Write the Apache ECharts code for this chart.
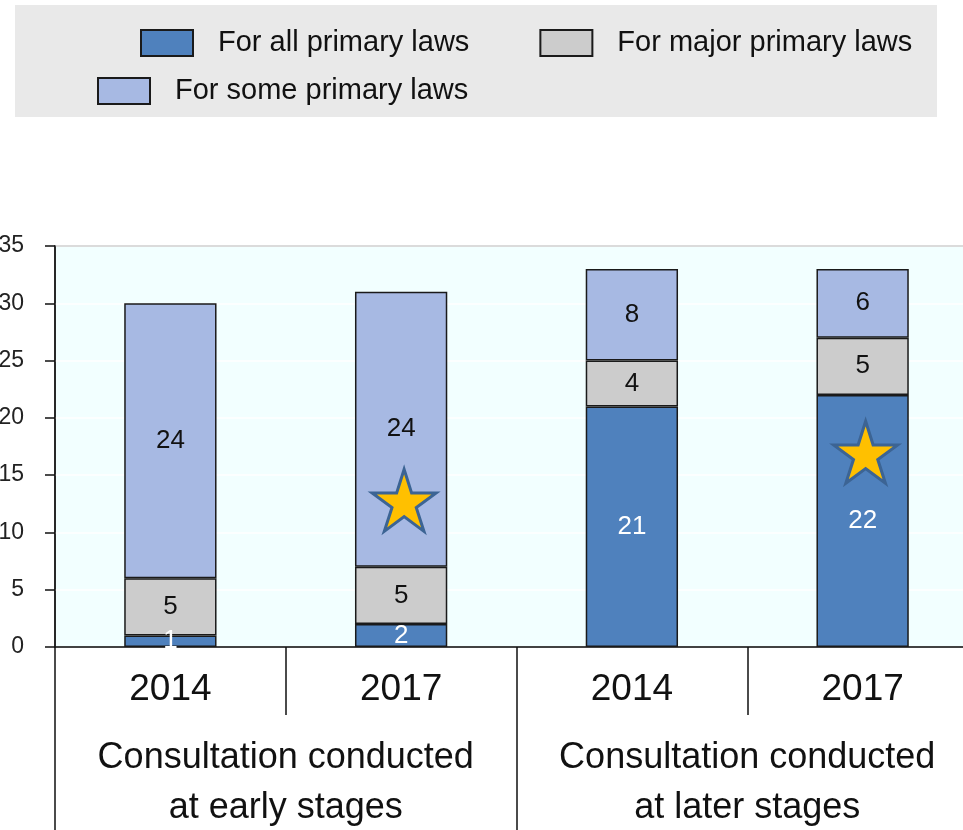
<!DOCTYPE html>
<html>
<head>
<meta charset="utf-8">
<script src="https://cdn.jsdelivr.net/npm/echarts@6/dist/echarts.min.js"></script>
<style>
  html, body { margin: 0; padding: 0; background: #fff; }
  #chart { width: 963px; height: 830px; }
</style>
</head>
<body>
<div id="chart"></div>
<script>
// chart values
var years = ['2014', '2017', '2014', '2017'];
var groups = ['Consultation conducted\nat early stages', 'Consultation conducted\nat later stages'];
var seriesNames = ['For all primary laws', 'For major primary laws', 'For some primary laws'];
var allLaws = [1, 2, 21, 22];
var majorLaws = [5, 5, 4, 5];
var someLaws = [24, 24, 8, 6];
var starValues = ['-', 12.8, '-', 17];
var yTicks = [0, 35, 5];

var FONT = '"Liberation Sans", Arial, sans-serif';

// five point star outline for the marker symbol
function starPath() {
  var pts = [];
  for (var i = 0; i < 10; i++) {
    var r = i % 2 ? 38 : 100;
    var a = (-90 + i * 36) * Math.PI / 180;
    pts.push((100 + r * Math.cos(a)).toFixed(1) + ' ' + (100 + r * Math.sin(a)).toFixed(1));
  }
  return 'path://M' + pts.join(' L') + ' Z';
}

function barSeries(name, values, color, labelColor) {
  return {
    name: name,
    type: 'bar',
    stack: 'total',
    barWidth: '40%',
    data: values,
    itemStyle: { color: color, borderColor: '#1a1a1a', borderWidth: 1.5 },
    label: {
      show: true,
      position: 'inside',
      color: labelColor,
      fontFamily: FONT,
      fontSize: 26
    },
    emphasis: { disabled: true }
  };
}

var legendText = { fontFamily: FONT, fontSize: 29, lineHeight: 30, color: '#111', padding: [0, 0, 0, 20] };

var myChart = echarts.init(document.getElementById('chart'));
var option = {
  animation: false,
  textStyle: { fontFamily: FONT },
  graphic: [{
    type: 'rect',
    shape: { x: 15, y: 5, width: 922, height: 112 },
    style: { fill: '#e9e9e9' },
    z: -1
  }],
  legend: [{
    data: [seriesNames[0], seriesNames[1]],
    left: 140,
    top: 28,
    width: 820,
    padding: 0,
    icon: 'rect',
    itemWidth: 52,
    itemHeight: 26,
    itemGap: 70,
    textStyle: legendText
  }, {
    data: [seriesNames[2]],
    left: 97,
    top: 76,
    padding: 0,
    icon: 'rect',
    itemWidth: 52,
    itemHeight: 26,
    textStyle: legendText
  }],
  grid: {
    left: 55,
    width: 923,
    top: 246,
    bottom: 183,
    outerBoundsMode: 'none',
    containLabel: false,
    show: true,
    backgroundColor: '#f2ffff',
    borderColor: '#444',
    borderWidth: 1.5
  },
  xAxis: [{
    type: 'category',
    data: years,
    position: 'bottom',
    axisLine: { lineStyle: { color: '#111', width: 1.5 } },
    axisTick: { show: true, interval: 0, length: 68, lineStyle: { color: '#111', width: 1.5 } },
    axisLabel: { interval: 0, margin: 24, fontSize: 37, color: '#111', fontFamily: FONT }
  }, {
    type: 'category',
    data: groups,
    position: 'bottom',
    axisLine: { show: false },
    axisTick: { show: true, interval: 0, length: 183, lineStyle: { color: '#111', width: 1.5 } },
    axisLabel: { interval: 0, margin: 86, fontSize: 36, lineHeight: 50, color: '#111', fontFamily: FONT }
  }],
  yAxis: {
    type: 'value',
    min: yTicks[0],
    max: yTicks[1],
    interval: yTicks[2],
    axisLine: { show: true, lineStyle: { color: '#111', width: 1.5 } },
    axisTick: { show: true, length: 10, lineStyle: { color: '#111', width: 1.5 } },
    axisLabel: { margin: 31, fontSize: 23, color: '#222', fontFamily: FONT },
    splitLine: { show: true, lineStyle: { color: '#ffffff', width: 1.5 } }
  },
  series: [
    barSeries(seriesNames[0], allLaws, '#4f81bd', '#ffffff'),
    barSeries(seriesNames[1], majorLaws, '#cccccc', '#111111'),
    barSeries(seriesNames[2], someLaws, '#a7b9e3', '#111111'),
    {
      type: 'scatter',
      data: starValues,
      symbol: starPath(),
      symbolSize: [64, 62],
      symbolOffset: [3, 0],
      itemStyle: { color: '#ffc000', borderColor: '#3c6494', borderWidth: 3, opacity: 1 },
      z: 5,
      silent: true
    }
  ]
};
myChart.setOption(option);
</script>
</body>
</html>
